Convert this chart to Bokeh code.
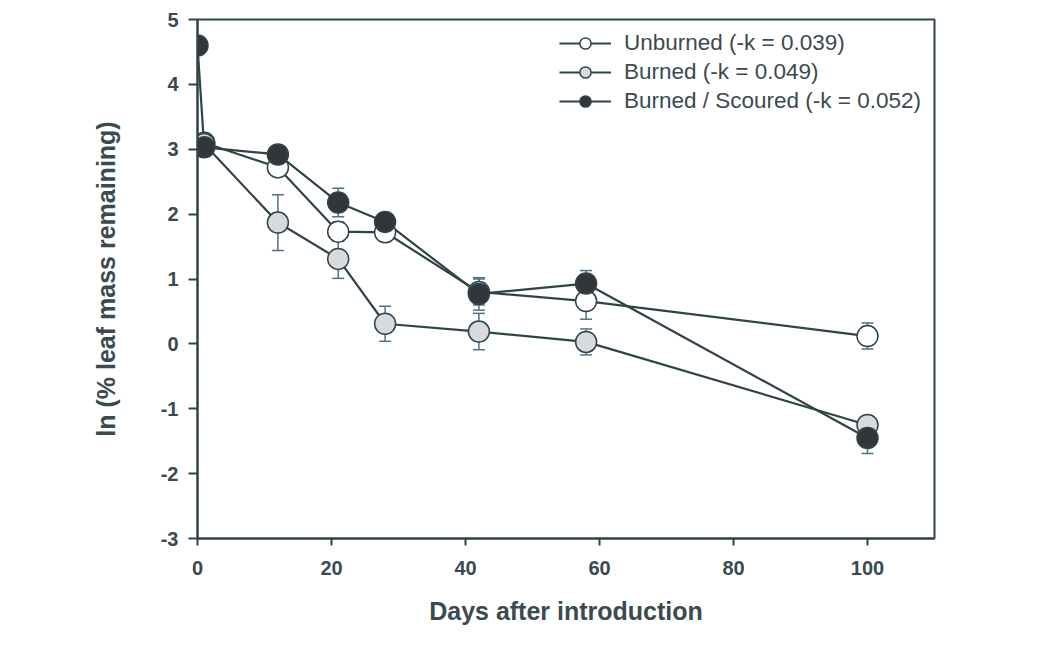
from bokeh.plotting import figure
from bokeh.models import ColumnDataSource, Whisker, Legend, LegendItem, FixedTicker, Range1d
from bokeh.embed import file_html
from bokeh.resources import INLINE

# ---- data ----
days_unburned = [1, 12, 21, 28, 42, 58, 100]
ln_unburned = [3.10, 2.72, 1.73, 1.72, 0.80, 0.66, 0.12]
se_unburned = [0.05, 0.08, 0.15, 0.10, 0.20, 0.28, 0.20]

days_burned = [1, 12, 21, 28, 42, 58, 100]
ln_burned = [3.08, 1.87, 1.31, 0.31, 0.19, 0.03, -1.25]
se_burned = [0.05, 0.43, 0.30, 0.27, 0.28, 0.20, 0.06]

days_scoured = [0, 1, 12, 21, 28, 42, 58, 100]
ln_scoured = [4.60, 3.03, 2.92, 2.18, 1.88, 0.77, 0.93, -1.45]
se_scoured = [0.0, 0.05, 0.06, 0.22, 0.08, 0.25, 0.20, 0.24]

labels = ["Unburned (-k = 0.039)", "Burned (-k = 0.049)", "Burned / Scoured (-k = 0.052)"]
fills = ["#ffffff", "#d9d9de", "#333538"]

x_ticks = [0, 20, 40, 60, 80, 100]
y_ticks = [-3, -2, -1, 0, 1, 2, 3, 4, 5]

TEXT = "#3b4a50"
LINE = "#2f4447"
ERR = "#4d7382"
FONT = "Liberation Sans"

p = figure(width=1000, height=640, output_backend="svg", toolbar_location=None,
           x_range=Range1d(0, 110), y_range=Range1d(-3, 5),
           min_border_left=197, min_border_top=19, min_border_right=66, min_border_bottom=102)
p.background_fill_color = "#ffffff"
p.border_fill_color = "#ffffff"
p.outline_line_color = LINE
p.outline_line_width = 2
p.grid.visible = False

for ax in (p.xaxis[0], p.yaxis[0]):
    ax.axis_line_color = LINE
    ax.axis_line_width = 2
    ax.major_tick_line_color = LINE
    ax.major_tick_line_width = 2
    ax.major_tick_in = 0
    ax.minor_tick_line_color = None
    ax.major_label_text_font = FONT
    ax.major_label_text_font_style = "bold"
    ax.major_label_text_font_size = "20px"
    ax.major_label_text_color = TEXT
    ax.axis_label_text_font = FONT
    ax.axis_label_text_font_style = "bold"
    ax.axis_label_text_font_size = "25px"
    ax.axis_label_text_color = TEXT

p.xaxis.major_tick_out = 7
p.yaxis.major_tick_out = 9
p.xaxis.major_label_standoff = 15
p.yaxis.major_label_standoff = 10
p.xaxis.ticker = FixedTicker(ticks=x_ticks)
p.yaxis.ticker = FixedTicker(ticks=y_ticks)
p.yaxis.major_label_overrides = {t: str(t) for t in y_ticks}
p.xaxis.axis_label = "Days after introduction"
p.yaxis.axis_label = "ln (% leaf mass remaining)"
p.xaxis.axis_label_standoff = 19
p.yaxis.axis_label_standoff = 38

series = [
    (days_unburned, ln_unburned, se_unburned),
    (days_burned, ln_burned, se_burned),
    (days_scoured, ln_scoured, se_scoured),
]

for d, v, s in series:
    p.line(d, v, line_color=LINE, line_width=2.2)

for d, v, s in series:
    src = ColumnDataSource(dict(x=[a for a, e in zip(d, s) if e > 0],
                                lo=[b - e for b, e in zip(v, s) if e > 0],
                                hi=[b + e for b, e in zip(v, s) if e > 0]))
    w = Whisker(source=src, base="x", lower="lo", upper="hi", dimension="height",
                line_color=ERR, line_width=1.5, level="underlay")
    w.upper_head.size = 12
    w.lower_head.size = 12
    w.upper_head.line_color = ERR
    w.lower_head.line_color = ERR
    w.upper_head.line_width = 1.5
    w.lower_head.line_width = 1.5
    p.add_layout(w)

for (d, v, s), f in zip(series, fills):
    p.scatter(d, v, size=21, fill_color=f, line_color=LINE, line_width=1.5)

# legend-only glyphs (smaller markers, as in the reference legend), placed off-range
items = []
for lab, f in zip(labels, fills):
    off = ColumnDataSource(dict(x=[-1000], y=[-1000]))
    lr = p.line("x", "y", source=off, line_color=LINE, line_width=2.2)
    sr = p.scatter("x", "y", source=off, size=15, fill_color=f, line_color=LINE, line_width=1.5)
    items.append(LegendItem(label=lab, renderers=[lr, sr]))

legend = Legend(items=items, location=(362, 423), margin=0, padding=9,
                glyph_width=52, glyph_height=28, label_height=28, spacing=1,
                label_standoff=13, label_text_font=FONT, label_text_font_size="22.5px",
                label_text_color=TEXT, border_line_color=None, background_fill_alpha=0)
p.add_layout(legend, "center")

open("out.html", "w").write(file_html(p, INLINE))
